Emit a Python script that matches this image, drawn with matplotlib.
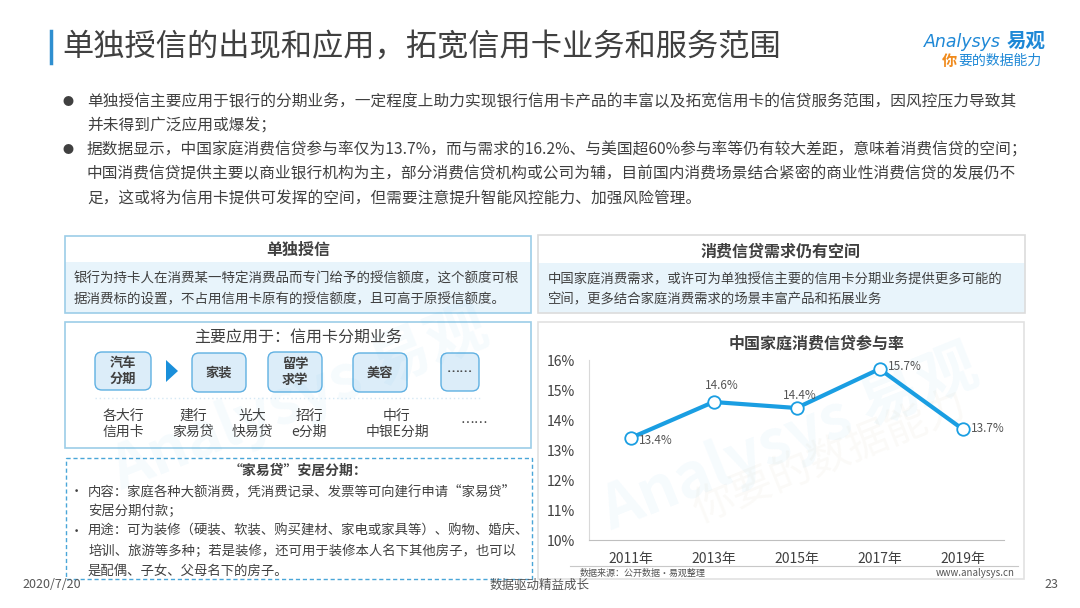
import matplotlib
matplotlib.use('Agg')
import matplotlib.pyplot as plt
from matplotlib.patches import Rectangle, FancyBboxPatch, Polygon

plt.rcParams['font.family'] = ['Noto Sans CJK SC', 'DejaVu Sans']

# data
years = ['2011年', '2013年', '2015年', '2017年', '2019年']
rates = [13.4, 14.6, 14.4, 15.7, 13.7]
yticks = [10, 11, 12, 13, 14, 15, 16]

title = '单独授信的出现和应用，拓宽信用卡业务和服务范围'
bullets = [
    ['单独授信主要应用于银行的分期业务，一定程度上助力实现银行信用卡产品的丰富以及拓宽信用卡的信贷服务范围，因风控压力导致其',
     '并未得到广泛应用或爆发；'],
    ['据数据显示，中国家庭消费信贷参与率仅为13.7%，而与需求的16.2%、与美国超60%参与率等仍有较大差距，意味着消费信贷的空间；',
     '中国消费信贷提供主要以商业银行机构为主，部分消费信贷机构或公司为辅，目前国内消费场景结合紧密的商业性消费信贷的发展仍不',
     '足，这或将为信用卡提供可发挥的空间，但需要注意提升智能风控能力、加强风险管理。'],
]
box1_title = '单独授信'
box1_lines = ['银行为持卡人在消费某一特定消费品而专门给予的授信额度，这个额度可根',
              '据消费标的设置，不占用信用卡原有的授信额度，且可高于原授信额度。']
box2_title = '主要应用于：信用卡分期业务'
apps = ['汽车\n分期', '家装', '留学\n求学', '美容', '……']
banks = ['各大行\n信用卡', '建行\n家易贷', '光大\n快易贷', '招行\ne分期', '中行\n中银E分期', '……']
box3_title = '“家易贷”安居分期：'
box3_lines = [('•', '内容：家庭各种大额消费，凭消费记录、发票等可向建行申请“家易贷”'),
              ('', '安居分期付款；'),
              ('•', '用途：可为装修（硬装、软装、购买建材、家电或家具等）、购物、婚庆、'),
              ('', '培训、旅游等多种；若是装修，还可用于装修本人名下其他房子，也可以'),
              ('', '是配偶、子女、父母名下的房子。')]
rbox_title = '消费信贷需求仍有空间'
rbox_lines = ['中国家庭消费需求，或许可为单独授信主要的信用卡分期业务提供更多可能的',
              '空间，更多结合家庭消费需求的场景丰富产品和拓展业务']
chart_title = '中国家庭消费信贷参与率'
source = '数据来源：公开数据·易观整理'

TXT = '#404040'
BLUE = '#1a9ee2'
EDGE = '#9ccde8'
BAND = '#e8f4fb'

fig = plt.figure(figsize=(10.8, 6.08), dpi=100)
bg = fig.add_axes([0, 0, 1, 1])
bg.set_xlim(0, 1080)
bg.set_ylim(608, 0)
bg.axis('off')

# header
bg.plot([51, 51], [31, 63], color='#2f8fd0', lw=2.5)
bg.text(62, 47, title, fontsize=22.5, color=TXT, va='center', ha='left')
bg.text(924, 42, 'Analysys', fontsize=12.5, color='#1e88d6', va='center', ha='left',
        family='DejaVu Sans', style='italic')
bg.text(1007, 41, '易观', fontsize=14, color='#1e88d6', va='center', ha='left', weight='bold')
bg.text(942, 61, '你', fontsize=11, color='#f08a1c', va='center', ha='left', style='italic', weight='bold')
bg.text(958, 61, '要的数据能力', fontsize=10, color='#1e88d6', va='center', ha='left', style='italic')

# bullets
y = 102
for para in bullets:
    bg.text(68, y, '●', fontsize=8, color=TXT, va='center', ha='center')
    for line in para:
        bg.text(87, y, line, fontsize=11.3, color=TXT, va='center', ha='left')
        y += 24

# watermarks (drawn first so boxes and text sit on top)
bg.text(790, 440, 'Analysys 易观', fontsize=44, color='#1a9ee2', alpha=0.045, rotation=22,
        ha='center', va='center', weight='bold')
bg.text(830, 458, '你要的数据能力', fontsize=30, color='#b0a070', alpha=0.05, rotation=22,
        ha='center', va='center')
bg.text(300, 400, 'Analysys 易观', fontsize=44, color='#1a9ee2', alpha=0.04, rotation=22,
        ha='center', va='center', weight='bold')

# left box 1
bg.add_patch(Rectangle((65, 262), 466, 51, facecolor=BAND, edgecolor='none'))
bg.add_patch(Rectangle((65, 236), 466, 77, facecolor='none', edgecolor=EDGE, lw=1.2))
bg.text(298, 250, box1_title, fontsize=11.5, color=TXT, weight='bold', ha='center', va='center')
for i, line in enumerate(box1_lines):
    bg.text(74, 278 + i * 21, line, fontsize=9.7, color=TXT, ha='left', va='center')

# left box 2
bg.add_patch(Rectangle((65, 322), 466, 126, facecolor='none', edgecolor=EDGE, lw=1.2))
bg.text(298, 337, box2_title, fontsize=11.5, color=TXT, ha='center', va='center')
app_boxes = [(95, 352, 56, 38), (192, 353, 54, 39), (268, 352, 54, 40), (353, 353, 54, 39), (441, 353, 38, 38)]
for (bx, by, bw, bh), label in zip(app_boxes, apps):
    bg.add_patch(FancyBboxPatch((bx, by), bw, bh, boxstyle='round,pad=0,rounding_size=7',
                                facecolor='#dcedf9', edgecolor='#5fb0e2', lw=1))
    bg.text(bx + bw / 2, by + bh / 2, label, fontsize=9.5, color=TXT, weight='bold',
            ha='center', va='center', linespacing=1.15)
bg.add_patch(Polygon([[166, 360], [166, 382], [178, 371]], closed=True, facecolor='#1a8fda', edgecolor='none'))
bg.plot([95, 480], [398, 398], color='#d6e9f5', lw=1, ls=(0, (1, 2)))
bank_x = [123, 193, 252, 309, 397, 474]
for bx, label in zip(bank_x, banks):
    bg.text(bx, 424, label, fontsize=10, color=TXT, ha='center', va='center', linespacing=1.2)

# left box 3 (dashed)
bg.add_patch(Rectangle((66, 458), 466, 121, facecolor='none', edgecolor='#4aa6d8', lw=1, ls=(0, (3, 2))))
bg.text(298, 471, box3_title, fontsize=10, color=TXT, weight='bold', ha='center', va='center')
for i, (mark, line) in enumerate(box3_lines):
    yy = 491 + i * 20
    if mark:
        bg.text(76, yy, mark, fontsize=9.5, color=TXT, ha='center', va='center')
    bg.text(88, yy, line, fontsize=9.6, color=TXT, ha='left', va='center')

# right box 1
bg.add_patch(Rectangle((538, 263), 487, 50, facecolor=BAND, edgecolor='none'))
bg.add_patch(Rectangle((538, 235), 487, 78, facecolor='none', edgecolor='#dcdcdc', lw=1.2))
bg.text(781, 252, rbox_title, fontsize=11.5, color=TXT, weight='bold', ha='center', va='center')
for i, line in enumerate(rbox_lines):
    bg.text(548, 279 + i * 20, line, fontsize=9.6, color=TXT, ha='left', va='center')

# right box 2 (chart panel)
bg.add_patch(Rectangle((538, 322), 486, 257, facecolor='none', edgecolor='#e2e2e2', lw=1.2))
bg.text(817, 344, chart_title, fontsize=11.5, color=TXT, weight='bold', ha='center', va='center')
bg.plot([570, 1018], [566, 566], color='#c8c8c8', lw=0.8)
bg.text(580, 573, source, fontsize=6.5, color='#555555', ha='left', va='center')
bg.text(1015, 573, 'www.analysys.cn', fontsize=7, color='#555555', ha='right', va='center')

# footer
bg.text(22, 585, '2020/7/20', fontsize=9, color='#555555', ha='left', va='center')
bg.text(540, 585, '数据驱动精益成长', fontsize=9, color='#555555', ha='center', va='center')
bg.text(1058, 585, '23', fontsize=9, color='#555555', ha='right', va='center')

# line chart
ax = fig.add_axes([589 / 1080, (608 - 540) / 608, 415 / 1080, 180 / 608])
ax.patch.set_alpha(0)
xs = range(len(years))
ax.plot(xs, rates, color=BLUE, lw=3, marker='o', markersize=9,
        markerfacecolor='white', markeredgecolor=BLUE, markeredgewidth=1.3, zorder=3)
label_offsets = [(6, -2), (-6, 7), (-10, 4), (6, 2), (6, 0)]
for x, v, (dx, dy) in zip(xs, rates, label_offsets):
    ax.annotate(f'{v}%', (x, v), xytext=(dx, dy), textcoords='offset points',
                fontsize=8.5, color='#555555', ha='left', va='bottom' if dy > 2 else 'center')
ax.set_xlim(-0.5, len(years) - 0.5)
ax.set_ylim(10, 16)
ax.set_yticks(yticks)
ax.set_yticklabels([f'{t}%' for t in yticks])
ax.set_xticks(list(xs))
ax.set_xticklabels(years)
for s in ['top', 'right']:
    ax.spines[s].set_visible(False)
ax.spines['left'].set_color('#d9d9d9')
ax.spines['bottom'].set_color('#bfbfbf')
ax.tick_params(axis='both', length=0, labelsize=10, colors=TXT)
ax.tick_params(axis='y', pad=10)
ax.tick_params(axis='x', pad=9)

fig.savefig('out.png', dpi=100)
